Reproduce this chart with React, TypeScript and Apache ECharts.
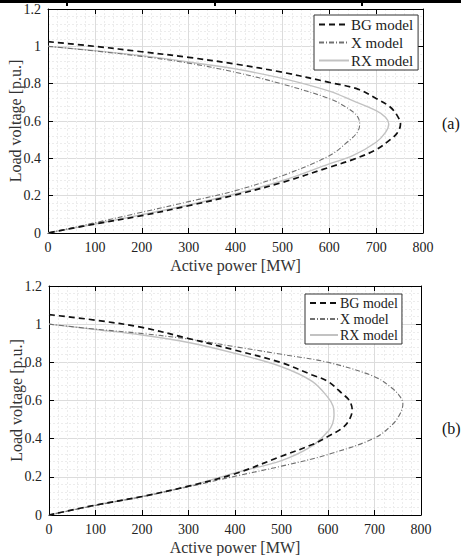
import React, { useEffect, useRef } from "react";
import * as echarts from "echarts";

// ---- Data ----
const xTicks = [0, 100, 200, 300, 400, 500, 600, 700, 800];
const yTicks = [0, 0.2, 0.4, 0.6, 0.8, 1, 1.2];
const seriesNames = ["BG model", "X model", "RX model"];
const panelLabels = ["(a)", "(b)"];

// Panel (a): [Active power MW, Load voltage p.u.]
const bgA: [number, number][] = [
  [0, 1.025], [100, 1.0], [200, 0.971], [300, 0.941], [400, 0.905], [500, 0.861],
  [600, 0.807], [661, 0.771], [700, 0.721], [730, 0.675], [745, 0.629], [752, 0.584],
  [745, 0.536], [730, 0.5], [700, 0.446], [650, 0.393], [600, 0.352], [500, 0.271],
  [400, 0.204], [300, 0.146], [200, 0.093], [100, 0.048], [0, 0],
];
const xA: [number, number][] = [
  [0, 1.0], [100, 0.975], [200, 0.946], [300, 0.91], [400, 0.861], [500, 0.798],
  [600, 0.72], [640, 0.668], [660, 0.625], [665, 0.584], [660, 0.54], [640, 0.49],
  [600, 0.414], [500, 0.307], [400, 0.227], [300, 0.168], [200, 0.111], [100, 0.055], [0, 0],
];
const rxA: [number, number][] = [
  [0, 1.0], [100, 0.977], [200, 0.95], [300, 0.916], [400, 0.879], [500, 0.828],
  [600, 0.76], [650, 0.709], [700, 0.655], [720, 0.62], [727, 0.584], [720, 0.539],
  [700, 0.486], [650, 0.414], [600, 0.37], [500, 0.28], [400, 0.21], [300, 0.15],
  [200, 0.098], [100, 0.048], [0, 0],
];

// Panel (b)
const bgB: [number, number][] = [
  [0, 1.05], [100, 1.021], [200, 0.983], [300, 0.925], [400, 0.864], [500, 0.798],
  [566, 0.734], [600, 0.7], [631, 0.635], [646, 0.6], [652, 0.551], [646, 0.5],
  [631, 0.456], [600, 0.412], [566, 0.369], [500, 0.308], [400, 0.216], [300, 0.151],
  [200, 0.097], [100, 0.052], [0, 0],
];
const xB: [number, number][] = [
  [0, 1.0], [100, 0.974], [200, 0.951], [300, 0.922], [400, 0.882], [500, 0.842],
  [600, 0.8], [700, 0.725], [738, 0.664], [755, 0.62], [761, 0.583], [755, 0.53],
  [738, 0.473], [700, 0.403], [600, 0.317], [500, 0.256], [400, 0.203], [300, 0.148],
  [200, 0.096], [100, 0.05], [0, 0],
];
const rxB: [number, number][] = [
  [0, 1.0], [100, 0.972], [200, 0.943], [300, 0.904], [400, 0.847], [500, 0.777],
  [566, 0.7], [600, 0.616], [611, 0.57], [613, 0.525], [610, 0.48], [600, 0.438],
  [566, 0.362], [500, 0.285], [400, 0.221], [300, 0.151], [200, 0.097], [100, 0.052], [0, 0],
];

const FONT = "'Liberation Serif', 'Times New Roman', serif";

const styles = [
  { color: "#111", width: 1.7, type: [6, 4] as any },
  { color: "#707070", width: 1.1, type: [5, 2, 1, 2] as any },
  { color: "#c2c2c2", width: 1.4, type: "solid" as any },
];

export default function App() {
  const ref = useRef<HTMLDivElement>(null);
  useEffect(() => {
    if (!ref.current) return;
    const chart = echarts.init(ref.current, null, { renderer: "svg" });
    const grids = [
      { left: 48, top: 9, width: 375, height: 224 },
      { left: 49, top: 286, width: 372, height: 229 },
    ];
    const xAxes: any[] = [];
    const yAxes: any[] = [];
    grids.forEach((_, gi) => {
      xAxes.push({
        type: "value", gridIndex: gi, min: xTicks[0], max: xTicks[xTicks.length - 1], interval: 100,
        name: "Active power [MW]", nameLocation: "middle", nameGap: 24,
        nameTextStyle: { fontFamily: FONT, fontSize: 16, color: "#333" },
        axisLine: { show: true, onZero: false, lineStyle: { color: "#000", width: 1 } },
        axisTick: { show: true, inside: true, length: 5, lineStyle: { color: "#000" } },
        axisLabel: { fontFamily: FONT, fontSize: 14, color: "#222", margin: 7 },
        splitLine: { show: true, lineStyle: { color: "#dcdcdc", width: 1 } },
        minorTick: { show: false, splitNumber: 5 },
        minorSplitLine: { show: true, lineStyle: { color: "#ececec", width: 1, type: [2, 2] } },
      });
      xAxes.push({
        type: "value", gridIndex: gi, position: "top", min: 0, max: 800, interval: 100,
        axisLine: { show: true, onZero: false, lineStyle: { color: "#000", width: 1 } },
        axisTick: { show: true, inside: true, length: 5, lineStyle: { color: "#000" } },
        axisLabel: { show: false }, splitLine: { show: false },
      });
      yAxes.push({
        type: "value", gridIndex: gi, min: yTicks[0], max: yTicks[yTicks.length - 1], interval: 0.2,
        name: "Load voltage [p.u.]", nameLocation: "middle", nameGap: 25, nameMoveOverlap: false,
        nameTextStyle: { fontFamily: FONT, fontSize: 16, color: "#333" },
        axisLine: { show: true, onZero: false, lineStyle: { color: "#000", width: 1 } },
        axisTick: { show: true, inside: true, length: 5, lineStyle: { color: "#000" } },
        axisLabel: {
          fontFamily: FONT, fontSize: 14, color: "#222", margin: 7,
          formatter: (v: number) => String(Math.round(v * 10) / 10),
        },
        splitLine: { show: true, lineStyle: { color: "#dcdcdc", width: 1 } },
        minorTick: { show: false, splitNumber: 5 },
        minorSplitLine: { show: true, lineStyle: { color: "#ececec", width: 1, type: [2, 2] } },
      });
      yAxes.push({
        type: "value", gridIndex: gi, position: "right", min: 0, max: 1.2, interval: 0.2,
        axisLine: { show: true, onZero: false, lineStyle: { color: "#000", width: 1 } },
        axisTick: { show: true, inside: true, length: 5, lineStyle: { color: "#000" } },
        axisLabel: { show: false }, splitLine: { show: false },
      });
    });

    const panels = [[bgA, xA, rxA], [bgB, xB, rxB]];
    const series: any[] = [];
    panels.forEach((curves, gi) => {
      curves.forEach((data, si) => {
        series.push({
          type: "line", name: seriesNames[si], xAxisIndex: gi * 2, yAxisIndex: gi * 2,
          data, showSymbol: false, symbol: "none", smooth: 0.35,
          lineStyle: { color: styles[si].color, width: styles[si].width, type: styles[si].type },
          itemStyle: { color: styles[si].color },
          z: 3 - si,
        });
      });
    });

    const legendCommon = {
      orient: "vertical", data: seriesNames,
      itemWidth: 30, itemHeight: 12,
      backgroundColor: "#fff", borderColor: "#333", borderWidth: 1,
      selectedMode: false,
      itemStyle: { color: "rgba(0,0,0,0)", borderWidth: 0, opacity: 0 },
    };

    chart.setOption({
      animation: false,
      backgroundColor: "#fff",
      grid: grids.map((g) => ({ ...g, show: false, containLabel: false, outerBoundsMode: "none" })),
      xAxis: xAxes,
      yAxis: yAxes,
      legend: [
        {
          ...legendCommon, left: 314, top: 15, itemGap: 3, padding: [2, 5, 2, 4],
          textStyle: { fontFamily: FONT, fontSize: 15, color: "#222", padding: [0, 0, 0, -3] },
        },
        {
          ...legendCommon, left: 305, top: 294, itemGap: 2, padding: [2, 4, 2, 4], itemWidth: 28,
          textStyle: { fontFamily: FONT, fontSize: 14, color: "#222", padding: [0, 0, 0, -3] },
        },
      ],
      series,
      graphic: [
        { type: "rect", left: 0, top: 0, shape: { width: 461, height: 3 }, style: { fill: "#000" } },
        { type: "rect", left: 66, top: 0, shape: { width: 2, height: 6 }, style: { fill: "#000" } },
        { type: "rect", left: 214, top: 0, shape: { width: 2, height: 6 }, style: { fill: "#000" } },
        { type: "rect", left: 361, top: 0, shape: { width: 2, height: 6 }, style: { fill: "#000" } },
        {
          type: "text", left: 442, top: 115,
          style: { text: panelLabels[0], fontFamily: FONT, fontSize: 16, fill: "#111" },
        },
        {
          type: "text", left: 442, top: 420,
          style: { text: panelLabels[1], fontFamily: FONT, fontSize: 16, fill: "#111" },
        },
      ],
    });
    return () => chart.dispose();
  }, []);
  return (
    <div
      ref={ref}
      style={{ position: "absolute", left: 0, top: 0, width: 461, height: 556 }}
    />
  );
}
